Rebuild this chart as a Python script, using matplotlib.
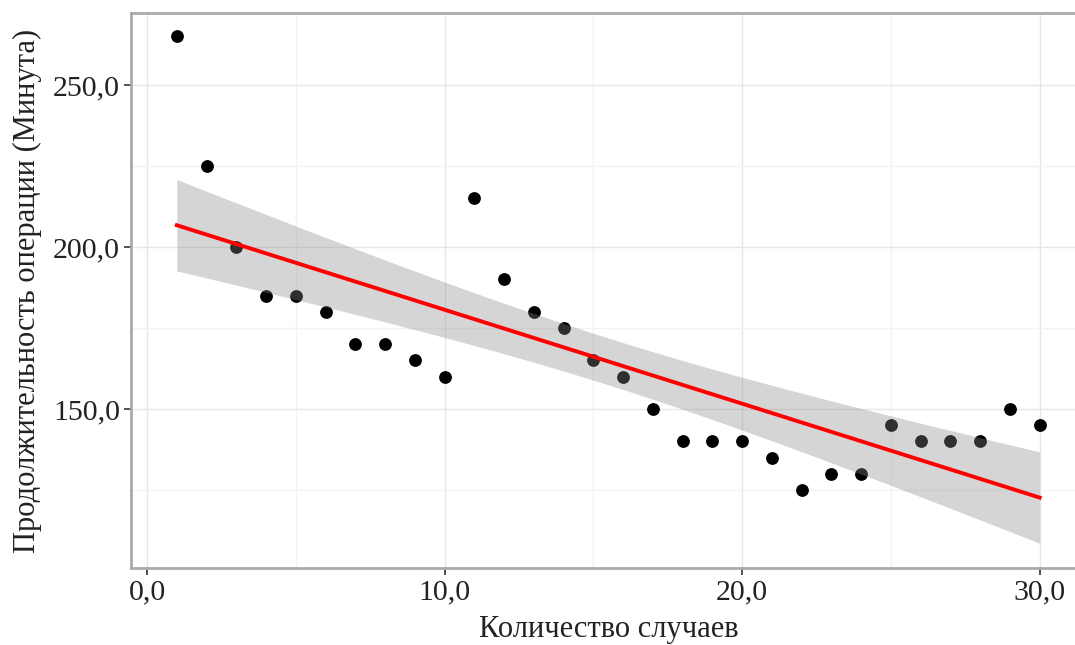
import numpy as np
import matplotlib
matplotlib.use('Agg')
import matplotlib.pyplot as plt
from matplotlib.ticker import FuncFormatter, MultipleLocator

plt.rcParams['font.family'] = ['Liberation Serif', 'DejaVu Serif']

# Dados
cases = np.arange(1, 31)
duration = np.array([265, 225, 200, 185, 185, 180, 170, 170, 165, 160,
                     215, 190, 180, 175, 165, 160, 150, 140, 140, 140,
                     135, 125, 130, 130, 145, 140, 140, 140, 150, 145])
x_ticks = [0, 10, 20, 30]
y_ticks = [150, 200, 250]

# Regressão linear + intervalo de confiança 95%
n = len(cases)
slope, intercept = np.polyfit(cases, duration, 1)
xs = np.linspace(cases.min(), cases.max(), 100)
ys = intercept + slope * xs
resid = duration - (intercept + slope * cases)
s = np.sqrt(np.sum(resid**2) / (n - 2))
sxx = np.sum((cases - cases.mean())**2)
se = s * np.sqrt(1 / n + (xs - cases.mean())**2 / sxx)
t = 2.048
lo, hi = ys - t * se, ys + t * se

fig = plt.figure(figsize=(10.75, 6.45), dpi=100)
ax = fig.add_axes([131 / 1075, 1 - 568 / 645, (1075 - 131) / 1075 + 0.01, (568 - 13) / 645])

ax.scatter(cases, duration, s=85, color='black', zorder=2, linewidths=0)
ax.fill_between(xs, lo, hi, color='#888888', alpha=0.35, linewidth=0, zorder=3)
ax.plot(xs, ys, color='#ff0000', linewidth=2.8, zorder=4)

ax.set_xlim(-0.54, 31.55)
ax.set_ylim(100.9, 272.2)
ax.xaxis.set_minor_locator(MultipleLocator(5))
ax.yaxis.set_minor_locator(MultipleLocator(25))
ax.set_xticks(x_ticks)
ax.set_yticks(y_ticks)

fmt = FuncFormatter(lambda v, p: f'{v:.1f}'.replace('.', ','))
ax.xaxis.set_major_formatter(fmt)
ax.yaxis.set_major_formatter(fmt)

ax.grid(True, which='major', color='#e6e6e6', linewidth=1.0, zorder=0)
ax.grid(True, which='minor', color='#f3f3f3', linewidth=1.0, zorder=0)
ax.set_axisbelow(True)

for side in ['left', 'bottom', 'top']:
    ax.spines[side].set_color('#aaaaaa')
    ax.spines[side].set_linewidth(2)
ax.spines['right'].set_visible(False)

ax.tick_params(which='major', length=5, width=1.2, color='#333333', labelsize=21.5, labelcolor='#222222', pad=3)
ax.tick_params(which='minor', length=0)

ax.set_xlabel('Количество случаев', fontsize=22, color='#222222', labelpad=7)
ax.set_ylabel('Продолжительность операции (Минута)', fontsize=22, color='#222222', labelpad=8)

fig.savefig('out.png', dpi=100)
